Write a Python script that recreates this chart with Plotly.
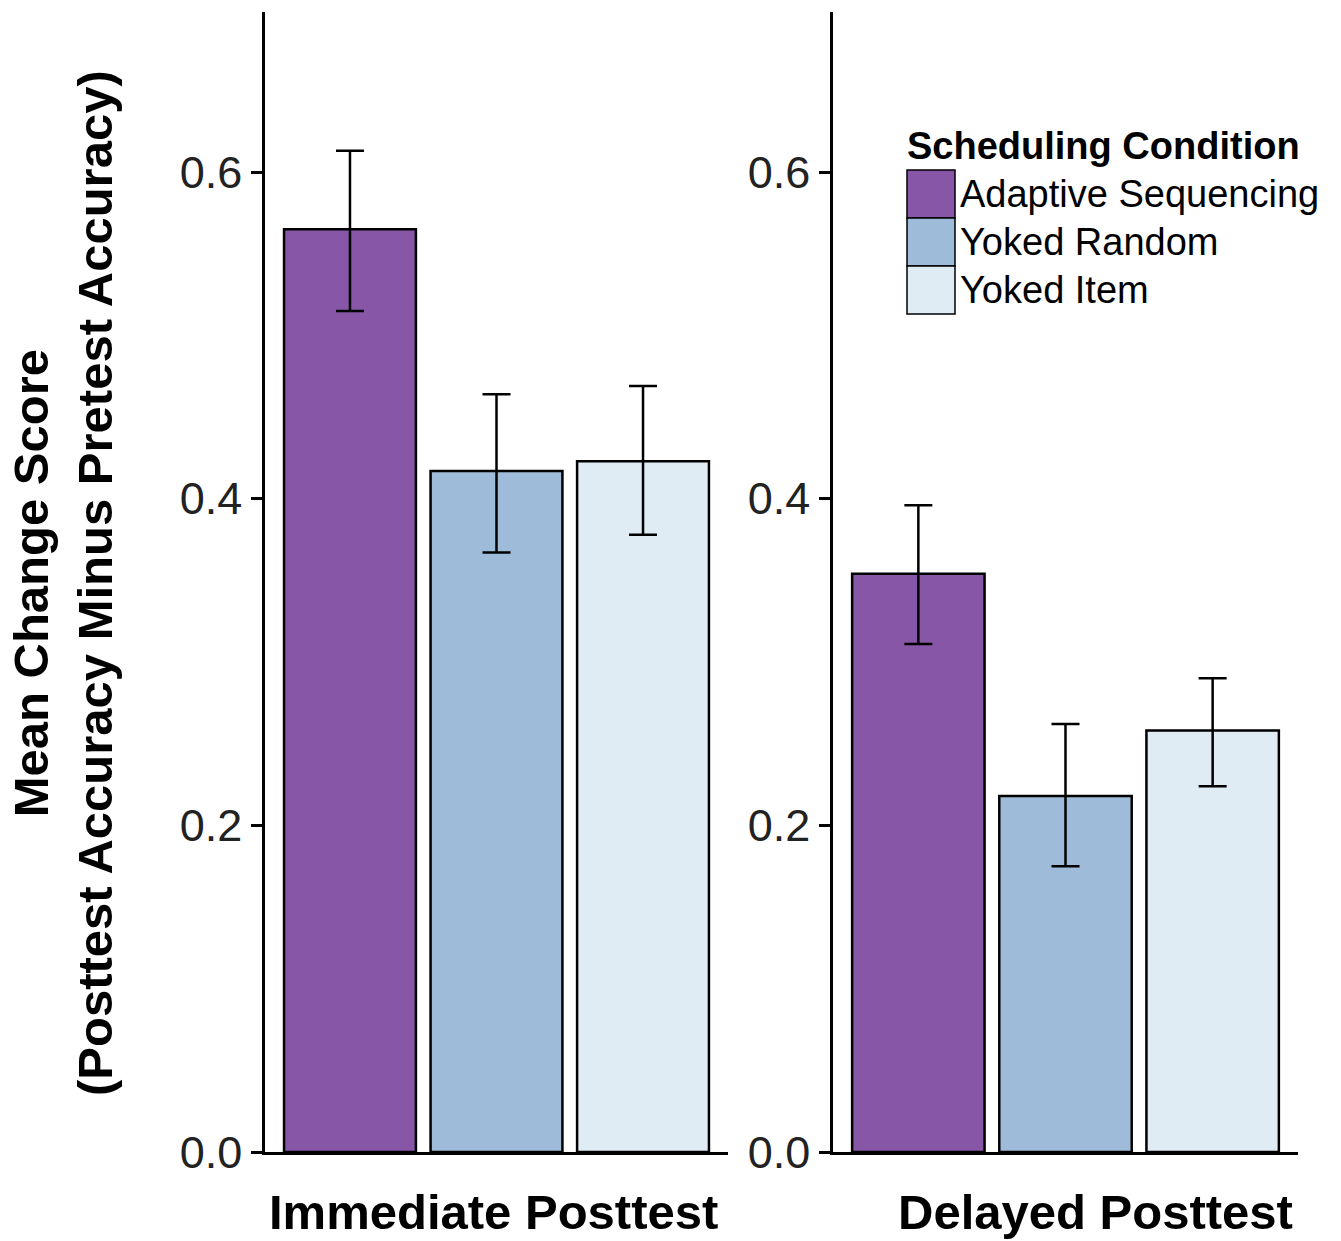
import plotly.graph_objects as go

# ---- data ----
conditions = ["Adaptive Sequencing", "Yoked Random", "Yoked Item"]
colors = ["#8856a7", "#9ebcda", "#e0ecf4"]

panel_titles = ["Immediate Posttest", "Delayed Posttest"]

immediate_mean = [0.565, 0.417, 0.423]
immediate_upper = [0.613, 0.464, 0.469]
immediate_lower = [0.515, 0.367, 0.378]

delayed_mean = [0.354, 0.218, 0.258]
delayed_upper = [0.396, 0.262, 0.290]
delayed_lower = [0.311, 0.175, 0.224]

y_ticks = [0.0, 0.2, 0.4, 0.6]
y_tick_labels = ["0.0", "0.2", "0.4", "0.6"]

legend_title = "Scheduling Condition"
y_title = "Mean Change Score<br>(Posttest Accuracy Minus Pretest Accuracy)"

# ---- figure ----
W, H = 1341, 1241
FONT = "Liberation Sans, Arial, sans-serif"


def px_x(p):
    return p / W


def px_y(p):
    return 1 - p / H


fig = go.Figure()

panels = [
    (immediate_mean, immediate_upper, immediate_lower, "x", "y"),
    (delayed_mean, delayed_upper, delayed_lower, "x2", "y2"),
]
for means, upper, lower, xa, ya in panels:
    fig.add_trace(go.Bar(
        x=conditions,
        y=means,
        width=0.9,
        marker=dict(color=colors, line=dict(color="black", width=2.5)),
        error_y=dict(
            type="data",
            symmetric=False,
            array=[u - m for u, m in zip(upper, means)],
            arrayminus=[m - l for m, l in zip(means, lower)],
            color="black",
            thickness=2.5,
            width=14,
        ),
        xaxis=xa,
        yaxis=ya,
        showlegend=False,
        hoverinfo="skip",
    ))

yrange = [0, 0.698]
ydomain = [px_y(1152), px_y(12)]

common_x = dict(
    type="category",
    range=[-0.58, 2.58],
    showline=True,
    linecolor="black",
    linewidth=2.5,
    showticklabels=False,
    ticks="",
    showgrid=False,
    zeroline=False,
    fixedrange=True,
    automargin=False,
)
common_y = dict(
    range=yrange,
    domain=ydomain,
    showline=True,
    linecolor="black",
    linewidth=2.5,
    ticks="outside",
    ticklen=11,
    tickwidth=2.5,
    tickcolor="black",
    tickvals=y_ticks,
    ticktext=y_tick_labels,
    tickfont=dict(family=FONT, size=45, color="#222222"),
    showgrid=False,
    zeroline=False,
    automargin=False,
)

fig.update_layout(
    width=W,
    height=H,
    autosize=False,
    margin=dict(l=0, r=0, t=0, b=0, pad=0, autoexpand=False),
    paper_bgcolor="white",
    plot_bgcolor="white",
    barmode="overlay",
    showlegend=False,
    xaxis=dict(common_x, domain=[px_x(265), px_x(728)], anchor="y"),
    yaxis=dict(common_y, anchor="x"),
    xaxis2=dict(common_x, domain=[px_x(833), px_x(1298)], anchor="y2"),
    yaxis2=dict(common_y, anchor="x2"),
    font=dict(family=FONT, color="black"),
)

annotations = []
# panel titles (x-axis titles)
for title, cx in zip(panel_titles, [493, 1095]):
    annotations.append(dict(
        text="<b>%s</b>" % title, xref="paper", yref="paper",
        x=px_x(cx), y=px_y(1212), xanchor="center", yanchor="middle",
        showarrow=False, font=dict(family=FONT, size=49, color="black"),
    ))

# y-axis title
annotations.append(dict(
    text="<b>%s</b>" % y_title, xref="paper", yref="paper",
    x=px_x(63), y=px_y(583), xanchor="center", yanchor="middle",
    textangle=-90, showarrow=False,
    font=dict(family=FONT, size=49, color="black"),
))

# legend (drawn by hand to get large keys)
annotations.append(dict(
    text="<b>%s</b>" % legend_title, xref="paper", yref="paper",
    x=px_x(905), y=px_y(146), xanchor="left", yanchor="middle",
    showarrow=False, font=dict(family=FONT, size=38, color="black"),
))
shapes = []
key_left, key_right, key_top, key_h = 907, 955, 170, 48
for i, (name, col) in enumerate(zip(conditions, colors)):
    top = key_top + i * key_h
    shapes.append(dict(
        type="rect", xref="paper", yref="paper",
        x0=px_x(key_left), x1=px_x(key_right),
        y0=px_y(top + key_h), y1=px_y(top),
        fillcolor=col, line=dict(color="black", width=1.5),
    ))
    annotations.append(dict(
        text=name, xref="paper", yref="paper",
        x=px_x(key_right + 3), y=px_y(top + key_h / 2), xanchor="left",
        yanchor="middle", showarrow=False,
        font=dict(family=FONT, size=38, color="black"),
    ))

fig.update_layout(annotations=annotations, shapes=shapes)

fig.write_html("out.html", config={"responsive": False})
